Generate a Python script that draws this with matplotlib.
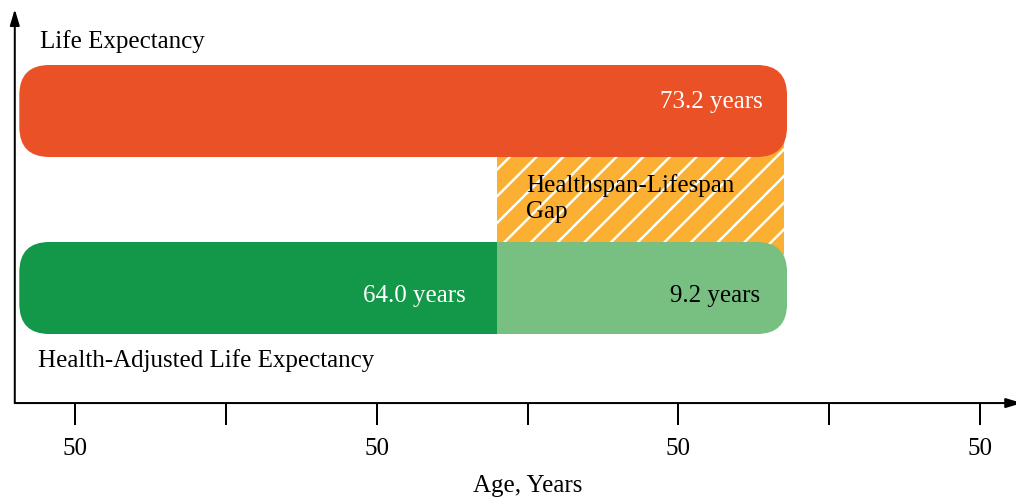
import matplotlib
matplotlib.use("Agg")
import matplotlib.pyplot as plt
from matplotlib.patches import FancyBboxPatch
from matplotlib.ticker import FixedLocator, FixedFormatter

plt.rcParams['font.family'] = ['Liberation Serif', 'DejaVu Serif']
plt.rcParams['hatch.linewidth'] = 1.1

# Данные
bar_labels = ["Life Expectancy", "Health-Adjusted Life Expectancy"]
life_expectancy = 73.2
healthy_years = 64.0
gap_years = 9.2
gap_label = "Healthspan-Lifespan\nGap"
major_ticks = [50, 60, 70, 80]
minor_ticks = [55, 65, 75]
tick_labels = ["50", "50", "50", "50"]
x_title = "Age, Years"

RED = "#EB5126"
DARK_GREEN = "#13984A"
LIGHT_GREEN = "#78C082"
ORANGE = "#FBB034"

DPI = 160
fig = plt.figure(figsize=(1016 / DPI, 499 / DPI), dpi=DPI)
ax = fig.add_axes([0, 0, 1, 1])
ax.set_xlim(47.51, 81.19)
ax.set_ylim(-1.192, 1.627)

# y-единица в пикселях относительно x-единицы (для круглых углов)
aspect = 30.17 / 177

origin = 48.0
x_axis_y = -0.65
bar_start = 48.15
end_ext = 0.4
bar_h = 0.52
radius = 1.0
y_top, y_bottom = 1, 0


def rounded_clip(y, right):
    """Скругленный прямоугольник для обрезки полос."""
    patch = FancyBboxPatch((bar_start, y - bar_h / 2), right - bar_start, bar_h,
                           boxstyle=f"round,pad=0,rounding_size={radius}",
                           mutation_aspect=aspect, fc="none", ec="none",
                           lw=0, transform=ax.transData)
    ax.add_patch(patch)
    return patch


# Заштрихованная область разрыва
ax.barh((y_top + y_bottom) / 2, gap_years + 0.3, left=healthy_years,
        height=y_top - y_bottom, color=ORANGE, hatch="//", edgecolor="white",
        lw=0, zorder=1)

# Ожидаемая продолжительность жизни
clip_top = rounded_clip(y_top, life_expectancy + end_ext)
red = ax.barh(y_top, life_expectancy + end_ext - bar_start, left=bar_start,
              height=bar_h, color=RED, zorder=2)
for r in red:
    r.set_clip_path(clip_top)

# Продолжительность здоровой жизни
clip_bottom = rounded_clip(y_bottom, life_expectancy + end_ext)
dark = ax.barh(y_bottom, healthy_years - bar_start, left=bar_start,
               height=bar_h, color=DARK_GREEN, zorder=2)
light = ax.barh(y_bottom, gap_years + end_ext, left=healthy_years,
                height=bar_h, color=LIGHT_GREEN, zorder=2)
for r in list(dark) + list(light):
    r.set_clip_path(clip_bottom)

fs = 11.25
ax.text(life_expectancy - 0.4, 1.017, f"{life_expectancy:.1f} years",
        color="white", fontsize=fs, ha="right", va="baseline", zorder=3)
ax.text(healthy_years - 1.04, -0.079, f"{healthy_years:.1f} years",
        color="white", fontsize=fs, ha="right", va="baseline", zorder=3)
ax.text(life_expectancy - 0.5, -0.079, f"{gap_years:.1f} years",
        color="black", fontsize=fs, ha="right", va="baseline", zorder=3)
ax.text(healthy_years + 0.95, 0.395, gap_label, color="black", fontsize=fs,
        ha="left", va="baseline", linespacing=1.25, zorder=3)

ax.text(48.84, 1.39, bar_labels[0], fontsize=fs, ha="left", va="center")
ax.text(48.77, -0.407, bar_labels[1], fontsize=fs, ha="left", va="center")

# Оси со стрелками
arrow = dict(arrowstyle="-|>,head_length=0.6,head_width=0.18", lw=0.9,
             color="black", shrinkA=0, shrinkB=0, mutation_scale=10)
ax.annotate("", xy=(81.39, x_axis_y), xytext=(origin, x_axis_y),
            arrowprops=arrow, annotation_clip=False)
ax.annotate("", xy=(origin, 1.575), xytext=(origin, x_axis_y), arrowprops=arrow)

for side in ax.spines.values():
    side.set_visible(False)
ax.spines["bottom"].set_position(("data", x_axis_y))
ax.xaxis.set_major_locator(FixedLocator(major_ticks))
ax.xaxis.set_major_formatter(FixedFormatter(tick_labels))
ax.xaxis.set_minor_locator(FixedLocator(minor_ticks))
ax.tick_params(axis="x", which="both", direction="out", length=9.9, width=0.9,
               labelsize=fs, pad=6)
ax.set_yticks([])

ax.text(65, -1.153, x_title, fontsize=fs, ha="center", va="baseline")

fig.savefig("out.png", dpi=DPI)
